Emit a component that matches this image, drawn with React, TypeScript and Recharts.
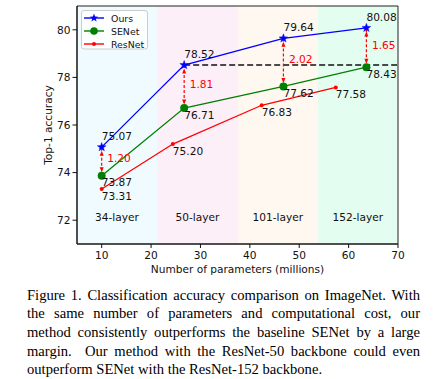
import React from 'react';
import {
  ComposedChart,
  Line,
  Scatter,
  XAxis,
  YAxis,
  ReferenceArea,
  ReferenceLine,
  LabelList,
  Legend,
} from 'recharts';

// ---------- data ----------
const layerNames = ['34-layer', '50-layer', '101-layer', '152-layer'];
const bandEdges = [5, 21.2, 37.6, 53.7, 70];
const bandColors = ['#f0fbff', '#fdeff8', '#fff8f0', '#e3fdf0'];

const oursParams = [10, 26.7, 46.8, 63.6];
const oursAcc = [75.07, 78.52, 79.64, 80.08];
const senetParams = [10, 26.7, 46.8, 63.6];
const senetAcc = [73.87, 76.71, 77.62, 78.43];
const resnetParams = [10, 24.4, 42.4, 57.4];
const resnetAcc = [73.31, 75.2, 76.83, 77.58];

const xTicks = [10, 20, 30, 40, 50, 60, 70];
const yTicks = [72, 74, 76, 78, 80];

const captionLines = [
  'Figure 1. Classification accuracy comparison on ImageNet. With',
  'the same number of parameters and computational cost, our',
  'method consistently outperforms the baseline SENet by a large',
  'margin.  Our method with the ResNet-50 backbone could even',
  'outperform SENet with the ResNet-152 backbone.',
];

// ---------- derived tables ----------
const oursData = oursParams.map((x, i) => ({ x, y: oursAcc[i] }));
const senetData = senetParams.map((x, i) => ({ x, y: senetAcc[i] }));
const resnetData = resnetParams.map((x, i) => ({ x, y: resnetAcc[i] }));
const diffData = oursParams.map((x, i) => ({
  x,
  y: (oursAcc[i] + senetAcc[i]) / 2,
  diff: (oursAcc[i] - senetAcc[i]).toFixed(2),
}));

const FONT = '"DejaVu Sans", sans-serif';
const FS = 10.6;
const LFS = 9.4;
const BLUE = '#0000ff';
const GREEN = '#008000';
const RED = '#ff0000';

function starPath(cx: number, cy: number, R: number, r: number) {
  let d = '';
  for (let k = 0; k < 10; k++) {
    const ang = -Math.PI / 2 + (k * Math.PI) / 5;
    const rad = k % 2 === 0 ? R : r;
    const px = cx + rad * Math.cos(ang);
    const py = cy + rad * Math.sin(ang);
    d += (k === 0 ? 'M' : 'L') + px.toFixed(2) + ',' + py.toFixed(2);
  }
  return d + 'Z';
}

const StarDot = (p: any) => {
  if (p.cx == null || p.cy == null) return <g key={p.index} />;
  return <path key={p.index} d={starPath(p.cx, p.cy, 4.6, 1.9)} fill={BLUE} stroke={BLUE} strokeWidth={0.4} />;
};
const CircleDot = (p: any) => {
  if (p.cx == null || p.cy == null) return <g key={p.index} />;
  return <circle key={p.index} cx={p.cx} cy={p.cy} r={4} fill={GREEN} />;
};
const SmallDot = (p: any) => {
  if (p.cx == null || p.cy == null) return <g key={p.index} />;
  return <circle key={p.index} cx={p.cx} cy={p.cy} r={2} fill={RED} />;
};

const aboveLabel = (p: any) => (
  <text x={p.x} y={p.y - 11} dominantBaseline="central" fontSize={FS} fontFamily={FONT} fill="#111">
    {Number(p.value).toFixed(2)}
  </text>
);
const belowLabel = (p: any) => (
  <text x={p.x} y={p.y + 6.5} dominantBaseline="central" fontSize={FS} fontFamily={FONT} fill="#111">
    {Number(p.value).toFixed(2)}
  </text>
);

const DiffLabel = (p: any) => (
  <text
    x={p.cx + 5.5}
    y={p.cy - 3}
    dominantBaseline="central"
    fontSize={FS}
    fontFamily={FONT}
    fill={RED}
  >
    {p.payload.diff}
  </text>
);

const legendItems = [
  { name: 'Ours', color: BLUE, kind: 'star' },
  { name: 'SENet', color: GREEN, kind: 'circle' },
  { name: 'ResNet', color: RED, kind: 'dot' },
];

const renderLegend = () => (
  <svg width={68} height={40} style={{ display: 'block' }}>
    <rect x={0.5} y={0.5} width={66} height={38.5} rx={2.5} fill="#fff" fillOpacity={0.85} stroke="#cccccc" />
    {legendItems.map((it, i) => {
      const cy = 8 + i * 13;
      return (
        <g key={it.name}>
          <line x1={3} x2={23} y1={cy} y2={cy} stroke={it.color} strokeWidth={1.4} />
          {it.kind === 'star' && <path d={starPath(13, cy, 4.4, 1.8)} fill={it.color} />}
          {it.kind === 'circle' && <circle cx={13} cy={cy} r={3.8} fill={it.color} />}
          {it.kind === 'dot' && <circle cx={13} cy={cy} r={2} fill={it.color} />}
          <text x={30} y={cy} dominantBaseline="central" fontSize={LFS} fontFamily={FONT} fill="#111">
            {it.name}
          </text>
        </g>
      );
    })}
  </svg>
);

export default function App() {
  return (
    <div style={{ position: 'absolute', left: 0, top: 0, width: 441, height: 379, background: '#fff', overflow: 'hidden' }}>
      <svg width={0} height={0} style={{ position: 'absolute' }}>
        <defs>
          <marker
            id="redArrow"
            viewBox="0 0 10 8"
            refX={17}
            refY={4}
            markerWidth={5}
            markerHeight={4}
            markerUnits="userSpaceOnUse"
            orient="auto-start-reverse"
            style={{ overflow: 'visible' }}
          >
            <path d="M0,0 L10,4 L0,8 Z" fill={RED} />
          </marker>
        </defs>
      </svg>
      <ComposedChart width={441} height={280} margin={{ top: 6, right: 43, left: 37, bottom: 6 }}>
        {layerNames.map((name, i) => (
          <ReferenceArea
            key={name}
            x1={bandEdges[i]}
            x2={bandEdges[i + 1]}
            fill={bandColors[i]}
            fillOpacity={1}
            stroke="none"
            label={{ value: name, position: 'insideBottom', offset: 23, fill: '#111', fontSize: FS, fontFamily: FONT }}
          />
        ))}
        <XAxis
          type="number"
          dataKey="x"
          domain={[5, 70]}
          ticks={xTicks}
          allowDataOverflow
          height={30}
          tickSize={4}
          tickMargin={3}
          tick={{ fill: '#111', fontSize: FS, fontFamily: FONT }}
          tickLine={{ stroke: '#111' }}
          axisLine={{ stroke: '#111' }}
          label={{ value: 'Number of parameters (millions)', position: 'insideBottom', offset: 1.5, fill: '#111', fontSize: FS, fontFamily: FONT }}
        />
        <YAxis
          type="number"
          domain={[71, 81]}
          ticks={yTicks}
          allowDataOverflow
          width={40}
          tickSize={4.5}
          tickMargin={2}
          tick={{ fill: '#111', fontSize: FS, fontFamily: FONT }}
          tickLine={{ stroke: '#111' }}
          axisLine={{ stroke: '#111' }}
          label={{
            content: () => (
              <text
                x={48}
                y={125}
                transform="rotate(-90 48 125)"
                textAnchor="middle"
                dominantBaseline="central"
                fontSize={FS}
                fontFamily={FONT}
                fill="#111"
              >
                Top-1 accuracy
              </text>
            ),
          }}
        />
        <ReferenceLine
          segment={[
            { x: oursParams[1], y: oursAcc[1] },
            { x: 70, y: oursAcc[1] },
          ]}
          stroke="#111"
          strokeWidth={1.5}
          strokeDasharray="6 3"
        />
        {oursParams.map((x, i) => (
          <ReferenceLine
            key={'arr' + i}
            segment={[
              { x, y: senetAcc[i] },
              { x, y: oursAcc[i] },
            ]}
            stroke={RED}
            strokeWidth={1.2}
            strokeDasharray="3 2"
            markerStart="url(#redArrow)"
            markerEnd="url(#redArrow)"
          />
        ))}
        <Line
          data={resnetData}
          dataKey="y"
          name="ResNet"
          stroke={RED}
          strokeWidth={1.3}
          dot={SmallDot}
          activeDot={false}
          isAnimationActive={false}
        >
          <LabelList dataKey="y" content={belowLabel} />
        </Line>
        <Line
          data={senetData}
          dataKey="y"
          name="SENet"
          stroke={GREEN}
          strokeWidth={1.3}
          dot={CircleDot}
          activeDot={false}
          isAnimationActive={false}
        >
          <LabelList dataKey="y" content={belowLabel} />
        </Line>
        <Line
          data={oursData}
          dataKey="y"
          name="Ours"
          stroke={BLUE}
          strokeWidth={1.3}
          dot={StarDot}
          activeDot={false}
          isAnimationActive={false}
        >
          <LabelList dataKey="y" content={aboveLabel} />
        </Line>
        <Scatter data={diffData} dataKey="y" shape={DiffLabel} isAnimationActive={false} />
        <ReferenceArea x1={5} x2={70} y1={71} y2={81} fill="none" stroke="#222" strokeWidth={1} />
        <Legend
          content={renderLegend}
          layout="vertical"
          align="center"
          verticalAlign="middle"
          wrapperStyle={{ left: 81, top: 10, width: 68, height: 40 }}
        />
      </ComposedChart>
      <div
        style={{
          position: 'absolute',
          left: 27,
          top: 285.6,
          width: 393,
          fontFamily: '"Liberation Serif", "Times New Roman", serif',
          fontSize: 14.6,
          lineHeight: '18.7px',
          color: '#000',
        }}
      >
        {captionLines.map((ln, i) => (
          <div
            key={i}
            style={{
              whiteSpace: i === captionLines.length - 1 ? 'pre' : 'pre-wrap',
              textAlign: i === captionLines.length - 1 ? 'left' : 'justify',
              textAlignLast: i === captionLines.length - 1 ? 'left' : 'justify',
            }}
          >
            {ln}
          </div>
        ))}
      </div>
    </div>
  );
}
